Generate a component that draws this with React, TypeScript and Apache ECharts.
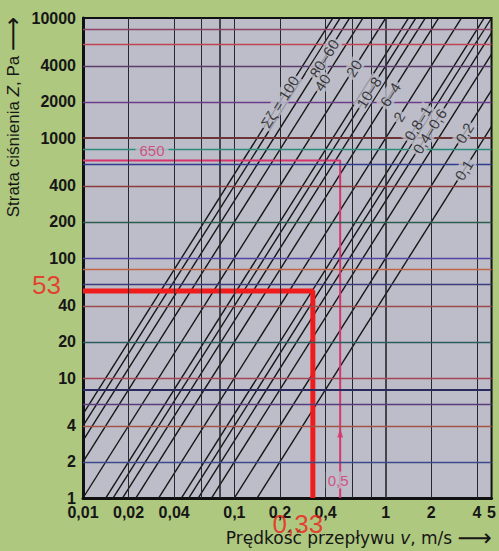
import React, { useEffect, useRef } from "react";
import * as echarts from "echarts";

const WIDTH = 499;
const HEIGHT = 551;

// Loss coefficients Σζ of the drawn lines; pressure loss Z = Σζ·ρ·v²/2
const zetaValues = [100, 80, 60, 40, 20, 10, 8, 6, 4, 2, 1, 0.8, 0.6, 0.4, 0.2, 0.1];
const waterDensity = 1000; // kg/m³

// Axis ticks and grid lines
const xTickValues = [0.01, 0.02, 0.04, 0.1, 0.2, 0.4, 1, 2, 4, 5];
const yTickValues = [1, 2, 4, 10, 20, 40, 100, 200, 400, 1000, 2000, 4000, 10000];
const xGridValues = [0.02, 0.04, 0.06, 0.08, 0.1, 0.2, 0.4, 0.6, 0.8, 1, 2, 4];
const yGridValues = [2, 4, 6, 8, 10, 20, 40, 60, 80, 100, 200, 400, 600, 800, 1000, 2000, 4000, 6000, 8000];

// Line captions: text, Σζ of the line carrying it, pressure loss where it sits
const lineLabelTexts = ["Σζ = 100", "80–60", "40", "20", "10–8", "6–4", "2", "0,8–1", "0,4–0,6", "0,2", "0,1"];
const lineLabelZeta = [100, 60, 40, 20, 8, 4, 2, 1, 0.6, 0.2, 0.1];
const lineLabelZ = [2000, 4600, 2900, 3800, 2400, 2300, 1500, 1330, 1140, 1100, 540];

// Worked examples
const exampleV = 0.33;
const exampleZ = 53;
const designV = 0.5;
const designZ = 650;

// Styles
const FONT = "'Liberation Sans', Arial, Helvetica, sans-serif";
const WIDE_FONT = "'DejaVu Sans', 'Liberation Sans', sans-serif";
const OUTER_BG = "#aec87f";
const PLOT_BG = "#bcbdc8";
const INK = "#161616";
const RED = "#f01c1c";
const PINK = "#d6346c";
const yGridColors = [
  "#3c4a8c", "#a45444", "#5a3c7c", "#2a2a5c", "#a44454", "#2c5c5c", "#9c4c4c",
  "#3c3c7c", "#c06444", "#5444a4", "#2c5c4c", "#8c3c3c", "#303c8c", "#2c8c7c",
  "#6c3434", "#6c3c8c", "#5c3c6c", "#c04454", "#8c4464",
];

const X_MIN = 0.01;
const X_MAX = 5;
const Y_MIN = 1;
const Y_MAX = 10000;
const GRID = { left: 83, top: 18, width: 409, height: 480 };

const fmt = (v: number) => String(v).replace(".", ",");
const lossAt = (zeta: number, v: number) => (zeta * waterDensity * v * v) / 2;
const speedAt = (zeta: number, z: number) => Math.sqrt((2 * z) / (zeta * waterDensity));

export default function App() {
  const ref = useRef<HTMLDivElement>(null);

  useEffect(() => {
    if (!ref.current) return;
    const chart = echarts.init(ref.current, undefined, { renderer: "svg" });

    // slope of a Z ∝ v² line in screen space
    const pxPerDecX = GRID.width / Math.log10(X_MAX / X_MIN);
    const pxPerDecY = GRID.height / Math.log10(Y_MAX / Y_MIN);
    const lineAngle = (Math.atan((2 * pxPerDecY) / pxPerDecX) * 180) / Math.PI;

    const axisLabel = {
      fontSize: 16,
      fontWeight: "bold" as const,
      color: INK,
      fontFamily: FONT,
      formatter: (v: number) => fmt(v),
    };

    const gridLines: any[] = [
      ...xGridValues.map((v) => ({
        xAxis: v,
        lineStyle: { color: "#26262c", width: v === 1 || v === 0.08 ? 1.6 : 1, type: "solid" },
      })),
      ...yGridValues.map((v, i) => ({
        yAxis: v,
        lineStyle: { color: yGridColors[i], width: v === 1000 || v === 8 ? 2 : 1.4, type: "solid" },
      })),
    ];

    const zetaSeries = zetaValues.map((zeta) => ({
      type: "line",
      name: "Σζ = " + fmt(zeta),
      data: [
        [X_MIN, lossAt(zeta, X_MIN)],
        [X_MAX, lossAt(zeta, X_MAX)],
      ],
      symbol: "none",
      clip: true,
      silent: true,
      lineStyle: { color: INK, width: 1.4 },
      z: 3,
    }));

    const option: any = {
      animation: false,
      backgroundColor: OUTER_BG,
      grid: {
        ...GRID,
        show: true,
        backgroundColor: PLOT_BG,
        borderColor: "#111",
        borderWidth: 2,
      },
      xAxis: {
        type: "log",
        logBase: 10,
        min: X_MIN,
        max: X_MAX,
        axisLine: { show: true, onZero: false, lineStyle: { color: "#111", width: 3 } },
        axisTick: { show: false },
        splitLine: { show: false },
        axisLabel: { ...axisLabel, customValues: xTickValues, margin: 6 },
      },
      yAxis: {
        type: "log",
        logBase: 10,
        min: Y_MIN,
        max: Y_MAX,
        axisLine: { show: true, onZero: false, lineStyle: { color: "#111", width: 3 } },
        axisTick: { show: false },
        splitLine: { show: false },
        axisLabel: { ...axisLabel, customValues: yTickValues, margin: 7 },
      },
      graphic: [
        {
          type: "text",
          x: 13,
          y: 117,
          rotation: Math.PI / 2,
          style: {
            text: "Strata ciśnienia {i|Z}, Pa {a|⟶}",
            fill: INK,
            font: `17px ${FONT}`,
            textAlign: "center",
            textVerticalAlign: "middle",
            rich: {
              i: { fontStyle: "italic", fontSize: 17, fontFamily: FONT, fill: INK },
              a: { fontSize: 24, fontFamily: "'DejaVu Sans', sans-serif", fill: INK },
            },
          },
        },
        {
          type: "text",
          x: 492,
          y: 538,
          style: {
            text: "Prędkość przepływu {i|v}, m/s {a|⟶}",
            fill: INK,
            font: `17px ${WIDE_FONT}`,
            textAlign: "right",
            textVerticalAlign: "middle",
            rich: {
              i: { fontStyle: "italic", fontSize: 17, fontFamily: WIDE_FONT, fill: INK },
              a: { fontSize: 24, fontFamily: "'DejaVu Sans', sans-serif", fill: INK },
            },
          },
        },
      ],
      series: [
        {
          type: "line",
          data: [],
          silent: true,
          z: 1,
          markLine: {
            silent: true,
            symbol: ["none", "none"],
            label: { show: false },
            data: gridLines,
          },
        },
        ...zetaSeries,
        {
          type: "line",
          data: [
            [X_MIN, designZ],
            [designV, designZ],
            [designV, Y_MIN],
          ],
          symbol: "none",
          silent: true,
          lineStyle: { color: PINK, width: 2 },
          z: 4,
        },
        {
          type: "line",
          data: [
            [X_MIN, exampleZ],
            [exampleV, exampleZ],
            [exampleV, Y_MIN],
          ],
          symbol: "none",
          silent: true,
          lineStyle: { color: RED, width: 5 },
          z: 4,
        },
        {
          type: "scatter",
          silent: true,
          clip: false,
          symbolSize: 0,
          z: 6,
          label: {
            show: true,
            position: "inside",
            rotate: lineAngle,
            fontSize: 15,
            fontFamily: FONT,
            color: INK,
            backgroundColor: PLOT_BG,
            padding: [0, 2],
          },
          data: lineLabelTexts.map((t, i) => ({
            value: [speedAt(lineLabelZeta[i], lineLabelZ[i]), lineLabelZ[i]],
            label: { formatter: t },
          })),
        },
        {
          type: "scatter",
          silent: true,
          clip: false,
          symbolSize: 0,
          z: 7,
          data: [
            {
              value: [X_MIN, exampleZ],
              label: {
                show: true,
                formatter: fmt(exampleZ),
                position: "left",
                distance: 22,
                offset: [0, -6],
                color: RED,
                fontSize: 26,
                fontFamily: FONT,
              },
            },
            {
              value: [exampleV, Y_MIN],
              label: {
                show: true,
                formatter: fmt(exampleV),
                position: "bottom",
                distance: 13,
                offset: [-15, 0],
                color: RED,
                fontSize: 26,
                fontFamily: FONT,
              },
            },
            {
              value: [X_MIN, designZ],
              label: {
                show: true,
                formatter: fmt(designZ),
                position: "inside",
                offset: [69, -10],
                color: PINK,
                fontSize: 15,
                fontFamily: FONT,
                backgroundColor: PLOT_BG,
                padding: [0, 4],
              },
            },
            {
              value: [designV, Y_MIN],
              label: {
                show: true,
                formatter: fmt(designV),
                position: "inside",
                offset: [-2, -18],
                color: PINK,
                fontSize: 15,
                fontFamily: FONT,
                backgroundColor: PLOT_BG,
                padding: [1, 2],
              },
            },
            {
              value: [designV, Y_MIN],
              symbol: "triangle",
              symbolSize: [6, 9],
              symbolOffset: [0, -65],
              itemStyle: { color: PINK },
              label: { show: false },
            },
          ],
        },
      ],
    };

    chart.setOption(option);
    return () => chart.dispose();
  }, []);

  return (
    <div
      ref={ref}
      style={{ position: "fixed", left: 0, top: 0, width: WIDTH, height: HEIGHT }}
    />
  );
}
